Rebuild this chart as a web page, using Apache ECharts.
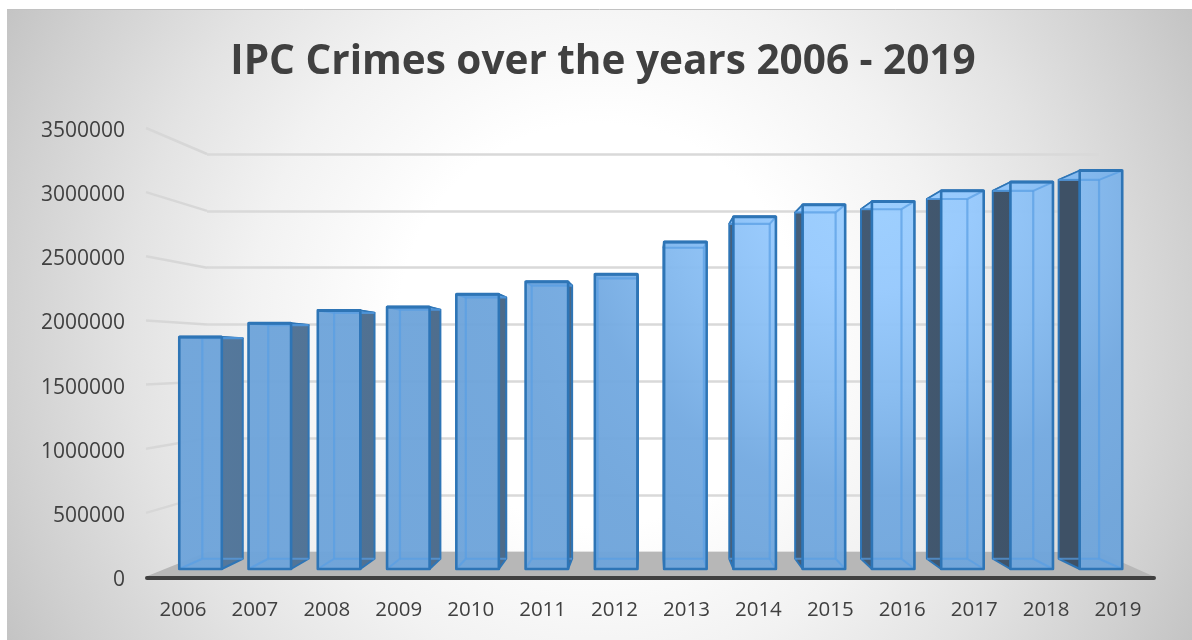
<!DOCTYPE html>
<html><head><meta charset="utf-8">
<style>html,body{margin:0;padding:0;background:#fff}#c{width:1192px;height:640px}</style>
<script src="https://cdn.jsdelivr.net/npm/echarts@6/dist/echarts.min.js"></script>
</head><body><div id="c"></div>
<script>
const titleText = 'IPC Crimes over the years 2006 - 2019';
const years = ['2006','2007','2008','2009','2010','2011','2012','2013','2014','2015','2016','2017','2018','2019'];
const crimes = [1878000,1990000,2094000,2121000,2225000,2326000,2387000,2648000,2852000,2949000,2976000,3063000,3133000,3226000];
const yTicks = [0,500000,1000000,1500000,2000000,2500000,3000000,3500000];

// plane layouts: front labelled plane, bar front plane, back wall
const FRONT = {left:147, top:131, width:1007, height:449};
const BARS  = {left:165.9, top:136.75, width:969.7, height:432.25};
const WALL  = {left:207, top:154, width:892, height:398};
const VP = {x:650, y:360}, DEPTH = 0.951, BAR_RATIO = 0.614;
const EDGE = '#2e75b6', INNER = 'rgba(88,158,228,0.7)';

const frontFill = {type:'radial', x:870, y:190, r:460, global:true, colorStops:[
  {offset:0, color:'#9ccfff'},{offset:0.22,color:'#96c9fd'},{offset:0.44,color:'#86bbf0'},
  {offset:0.65,color:'#74aae1'},{offset:0.87,color:'#6fa5db'},{offset:1,color:'#6ea4da'}]};
const sideFill = {type:'linear', x:200, y:0, x2:1060, y2:0, global:true, colorStops:[
  {offset:0,color:'#55799d'},{offset:1,color:'#3e5166'}]};
const pageFill = {type:'radial', x:0.5, y:0.5, r:1.062, colorStops:[
  {offset:0,color:'#ffffff'},{offset:0.3,color:'#ffffff'},{offset:0.52,color:'#f2f2f2'},
  {offset:0.7,color:'#e3e3e3'},{offset:0.9,color:'#cfcfcf'},{offset:1,color:'#c4c4c4'}]};

const back = p => [VP.x + (p[0]-VP.x)*DEPTH, VP.y + (p[1]-VP.y)*DEPTH];
const wallY = v => WALL.top + WALL.height*(1 - v/3500000);

function renderBar(params, api){
  const c = api.coord([api.value(0), api.value(1)]);
  const base = api.coord([api.value(0), 0]);
  const w = api.size([1,0])[0]*BAR_RATIO;
  const fl=[c[0]-w/2,c[1]], fr=[c[0]+w/2,c[1]], br=[c[0]+w/2,base[1]], bl=[c[0]-w/2,base[1]];
  const tl=back(fl), tr=back(fr), dr=back(br), dl=back(bl);
  const rightSide = c[0] < VP.x;
  const side = rightSide ? [fr,tr,dr,br] : [fl,tl,dl,bl];
  const poly=(pts,style)=>({type:'polygon',shape:{points:pts},style});
  const line=(a,b,stroke,lw)=>({type:'line',shape:{x1:a[0],y1:a[1],x2:b[0],y2:b[1]},style:{stroke,lineWidth:lw,fill:null}});
  const insideV = rightSide ? [tl,dl] : [tr,dr];
  const children = [
    poly(side,{fill:sideFill,stroke:EDGE,lineWidth:2,lineJoin:'round'}),
    poly([fl,fr,tr,tl],{fill:frontFill,stroke:EDGE,lineWidth:1.5,lineJoin:'round'}),
    poly([fl,fr,br,bl],{fill:frontFill,opacity:0.96}),
    line(insideV[0],insideV[1],INNER,2.2),
    line(tl,tr,INNER,2.2),
    line(dl,dr,INNER,2.2),
    rightSide ? line(bl,dl,INNER,2) : line(br,dr,INNER,2),
    rightSide ? line(fl,tl,INNER,2) : line(fr,tr,INNER,2),
    poly([fl,fr,br,bl],{fill:'none',stroke:EDGE,lineWidth:2.6,lineJoin:'round'}),
    line(fl,fr,EDGE,3)
  ];
  return {type:'group',children};
}

function renderFloor(params, api){
  const y0 = api.coord([0,0])[1]-3, xL = FRONT.left-2, xR = FRONT.left+FRONT.width+1;
  return {type:'polygon',shape:{points:[[xL,y0],[WALL.left,wallY(0)],[WALL.left+WALL.width,wallY(0)],[xR,y0]]},
    style:{fill:'#b7b7b7'}};
}
function renderSideLine(params, api){
  const v = api.value(0), y = api.coord([0,v])[1]-3;
  return {type:'line',shape:{x1:FRONT.left-1,y1:y,x2:WALL.left,y2:wallY(v)},
    style:{stroke:'#d7d7d7',lineWidth:2.5,fill:null}};
}

const chart = echarts.init(document.getElementById('c'),null,{renderer:'canvas'});
const hiddenCat = i => ({type:'category',gridIndex:i,data:years,show:false});
chart.setOption({
  animation:false,
  backgroundColor:'#ffffff',
  graphic:[{type:'rect',z:-10,silent:true,shape:{x:7,y:9,width:1185,height:631},style:{fill:pageFill}},
           {type:'line',z:-9,silent:true,shape:{x1:7,y1:9.5,x2:1192,y2:9.5},style:{stroke:'#c2c2c2',lineWidth:1}}],
  title:{text:titleText,left:598,top:37,textAlign:'center',
    textStyle:{fontFamily:'Open Sans',fontWeight:'bold',fontSize:40.5,color:'#404040'}},
  grid:[
    {left:FRONT.left,top:FRONT.top,width:FRONT.width,height:FRONT.height},
    {left:BARS.left,top:BARS.top,width:BARS.width,height:BARS.height},
    {left:WALL.left,top:WALL.top,width:WALL.width,height:WALL.height}
  ],
  xAxis:[
    {type:'category',gridIndex:0,data:years,z:5,offset:-2,
     axisLine:{onZero:false,lineStyle:{color:'#404040',width:4,cap:'round'}},axisTick:{show:false},
     axisLabel:{margin:22,fontFamily:'Open Sans',fontSize:20.5,color:'#404040'}},
    hiddenCat(1),hiddenCat(2)
  ],
  yAxis:[
    {type:'value',gridIndex:0,min:0,max:3500000,interval:500000,
     axisLine:{show:false},axisTick:{show:false},splitLine:{show:false},
     axisLabel:{margin:22,fontFamily:'Open Sans',fontSize:21,color:'#404040',
       formatter:v=>String(v)}},
    {type:'value',gridIndex:1,min:0,max:3500000,interval:500000,show:false,splitLine:{show:false}},
    {type:'value',gridIndex:2,min:0,max:3500000,interval:500000,
     axisLine:{show:false},axisTick:{show:false},axisLabel:{show:false},
     splitLine:{show:true,lineStyle:{color:'#d9d9d9',width:2.5}}}
  ],
  series:[
    {type:'custom',name:'side lines',xAxisIndex:0,yAxisIndex:0,z:1,silent:true,renderItem:renderSideLine,
     data:yTicks.slice(1).map(v=>[v]),encode:{y:0}},
    {type:'custom',name:'floor',xAxisIndex:0,yAxisIndex:0,z:2,silent:true,renderItem:renderFloor,data:[[0]],encode:{y:0}},
    {type:'custom',name:'IPC Crimes',xAxisIndex:1,yAxisIndex:1,z:3,renderItem:renderBar,
     data:years.map((y,i)=>[i,crimes[i]]),encode:{x:0,y:1}}
  ]
});
</script></body></html>
